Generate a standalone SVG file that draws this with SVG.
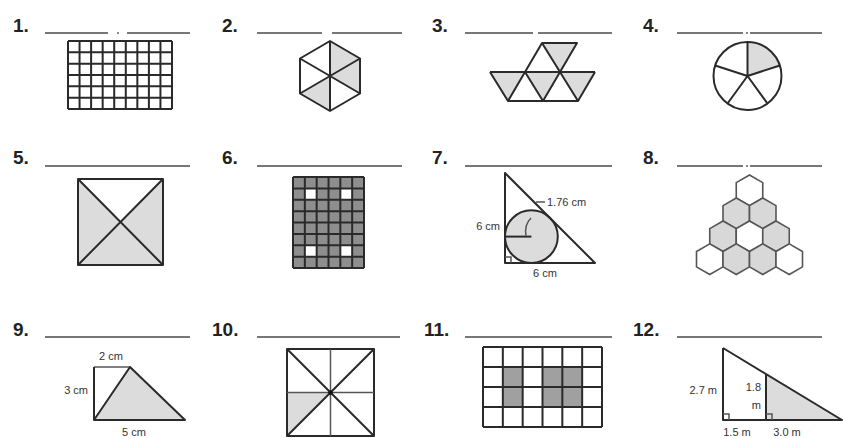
<svg xmlns="http://www.w3.org/2000/svg" xmlns:xlink="http://www.w3.org/1999/xlink" width="843" height="438" viewBox="0 0 843 438">
<style>
.num{font-family:"Liberation Sans",Arial,sans-serif;font-weight:bold;font-size:19px;fill:#222}
.lbl{font-family:"Liberation Sans",Arial,sans-serif;font-size:11px;fill:#333}
.blank{stroke:#777;stroke-width:2;fill:none}
.dot{fill:#888}
.ln{stroke:#2a2a2a;stroke-width:2;fill:none;stroke-linejoin:round}
.thin{stroke:#555;stroke-width:1.5;fill:none}
.sh{fill:#dcdcdc;stroke:none}
.dk{fill:#a0a0a0;stroke:none}
.dk2{fill:#8e8e8e;stroke:none}
.wh{fill:#fff;stroke:none}
.hex{stroke:#555;stroke-width:1.6}
.hs{fill:#d8d8d8}
.hw{fill:#fff}
</style>
<defs>
<polygon id="hx" points="0,-15.3 13.25,-7.65 13.25,7.65 0,15.3 -13.25,7.65 -13.25,-7.65"/>
</defs>
<rect width="843" height="438" fill="#fff"/>

<g id="labels">
<text class="num" x="13" y="32">1.</text>
<text class="num" x="222" y="32">2.</text>
<text class="num" x="432" y="32">3.</text>
<text class="num" x="643" y="32">4.</text>
<text class="num" x="13" y="164">5.</text>
<text class="num" x="222" y="164">6.</text>
<text class="num" x="432" y="164">7.</text>
<text class="num" x="643" y="164">8.</text>
<text class="num" x="13" y="336">9.</text>
<text class="num" x="212" y="336">10.</text>
<text class="num" x="424" y="336">11.</text>
<text class="num" x="633" y="336">12.</text>
</g>

<g id="blanks">
<path class="blank" d="M45,33H108M127,33H190"/>
<rect class="dot" x="117" y="32" width="2" height="2"/>
<path class="blank" d="M257,33H322M332,33H402"/>
<path class="blank" d="M465,33H533M538,33H612"/>
<path class="blank" d="M677,33H743M750,33H822"/>
<rect class="dot" x="746" y="32" width="2" height="2"/>
<path class="blank" d="M45,166H190"/>
<path class="blank" d="M257,166H402"/>
<path class="blank" d="M465,166H612"/>
<path class="blank" d="M677,166H743M750,166H822"/>
<rect class="dot" x="746" y="165" width="2" height="2"/>
<path class="blank" d="M45,337H190"/>
<path class="blank" d="M257,337H400"/>
<path class="blank" d="M465,337H612"/>
<path class="blank" d="M677,337H822"/>
</g>

<g id="fig1">
<rect x="68" y="41" width="104" height="68" fill="#fff"/>
<path class="ln" d="M68,41V109M79.56,41V109M91.11,41V109M102.67,41V109M114.22,41V109M125.78,41V109M137.33,41V109M148.89,41V109M160.44,41V109M172,41V109M68,41H172M68,52.33H172M68,63.67H172M68,75H172M68,86.33H172M68,97.67H172M68,109H172"/>
</g>

<g id="fig2">
<polygon class="sh" points="330,41 360,58.5 330,76"/>
<polygon class="sh" points="360,58.5 360,93.5 330,76"/>
<polygon class="sh" points="330,111 300,93.5 330,76"/>
<polygon class="ln" points="330,41 360,58.5 360,93.5 330,111 300,93.5 300,58.5"/>
<path class="ln" d="M330,41L330,111M360,58.5L300,93.5M360,93.5L300,58.5"/>
</g>

<g id="fig3">
<polygon class="sh" points="542,43 577,43 560,72"/>
<polygon class="sh" points="490,72 525,72 508,101"/>
<polygon class="sh" points="525,72 560,72 543,101"/>
<polygon class="sh" points="560,72 595,72 578,101"/>
<path class="ln" d="M542,43H577L560,72L542,43L525,72M490,72H595M508,101H578M490,72L508,101L525,72L543,101L560,72L578,101L595,72"/>
</g>

<g id="fig4">
<path class="sh" d="M747.5,76L747.5,42A34,34 0 0 1 779.84,65.49Z"/>
<circle class="ln" cx="747.5" cy="76" r="34"/>
<path class="ln" d="M747.5,76L747.5,42M747.5,76L779.84,65.49M747.5,76L767.48,103.51M747.5,76L727.52,103.51M747.5,76L715.16,65.49"/>
</g>

<g id="fig5">
<polygon class="sh" points="78,179 120.5,222 78,265"/>
<polygon class="sh" points="163,179 120.5,222 163,265"/>
<polygon class="sh" points="78,265 120.5,222 163,265"/>
<rect class="ln" x="78" y="179" width="85" height="86"/>
<path class="ln" d="M78,179L163,265M163,179L78,265"/>
</g>

<g id="fig6">
<rect class="dk2" x="293" y="177" width="71" height="91"/>
<rect class="wh" x="304.83" y="188.38" width="11.83" height="11.37"/>
<rect class="wh" x="340.33" y="188.38" width="11.83" height="11.37"/>
<rect class="wh" x="304.83" y="245.25" width="11.83" height="11.37"/>
<rect class="wh" x="340.33" y="245.25" width="11.83" height="11.37"/>
<path class="ln" d="M293,177V268M304.83,177V268M316.67,177V268M328.5,177V268M340.33,177V268M352.17,177V268M364,177V268M293,177H364M293,188.38H364M293,199.75H364M293,211.13H364M293,222.5H364M293,233.88H364M293,245.25H364M293,256.63H364M293,268H364"/>
</g>

<g id="fig7">
<circle cx="531.4" cy="236.6" r="26.4" fill="#dcdcdc" stroke="#2a2a2a" stroke-width="2"/>
<path class="ln" d="M505,236.6H531.4"/>
<path class="thin" d="M531,218Q524,225 526,236"/>
<polygon class="ln" points="505,173 505,263 595,263"/>
<path class="thin" d="M505,257H511V263"/>
<path class="thin" d="M536,202H545"/>
<text class="lbl" x="547" y="206">1.76 cm</text>
<text class="lbl" x="500" y="230" text-anchor="end">6 cm</text>
<text class="lbl" x="545" y="277" text-anchor="middle">6 cm</text>
</g>

<g id="fig8">
<use xlink:href="#hx" class="hex hw" x="749.5" y="190.3"/>
<use xlink:href="#hx" class="hex hs" x="736.25" y="213.3"/>
<use xlink:href="#hx" class="hex hs" x="762.75" y="213.3"/>
<use xlink:href="#hx" class="hex hs" x="723" y="236.25"/>
<use xlink:href="#hx" class="hex hw" x="749.5" y="236.25"/>
<use xlink:href="#hx" class="hex hs" x="776" y="236.25"/>
<use xlink:href="#hx" class="hex hw" x="709.75" y="259.2"/>
<use xlink:href="#hx" class="hex hs" x="736.25" y="259.2"/>
<use xlink:href="#hx" class="hex hs" x="762.75" y="259.2"/>
<use xlink:href="#hx" class="hex hw" x="789.25" y="259.2"/>
</g>

<g id="fig9">
<polygon class="sh" points="94,420 130,367 185,420"/>
<path class="thin" d="M94,367H130"/>
<path class="ln" d="M94,367V420H185L130,367L94,420"/>
<text class="lbl" x="111" y="360" text-anchor="middle">2 cm</text>
<text class="lbl" x="88" y="394" text-anchor="end">3 cm</text>
<text class="lbl" x="134" y="436" text-anchor="middle">5 cm</text>
</g>

<g id="fig10">
<polygon class="sh" points="287,392.5 330.5,392.5 287,436"/>
<rect class="ln" x="287" y="349" width="87" height="87"/>
<path class="thin" d="M330.5,349V436M287,392.5H374"/>
<path class="ln" d="M287,349L374,436M374,349L287,436"/>
<circle cx="330.5" cy="392.5" r="2.2" fill="#111"/>
</g>

<g id="fig11">
<rect x="483" y="347" width="119" height="80" fill="#fff"/>
<rect class="dk" x="502.83" y="367" width="19.84" height="40"/>
<rect class="dk" x="542.5" y="367" width="39.67" height="40"/>
<path class="ln" d="M483,347V427M502.83,347V427M522.67,347V427M542.5,347V427M562.33,347V427M582.17,347V427M602,347V427M483,347H602M483,367H602M483,387H602M483,407H602M483,427H602"/>
</g>

<g id="fig12">
<polygon class="sh" points="766,374 766,420 842,420"/>
<path class="ln" d="M723,348V420H842L723,348M766,374V420"/>
<path class="thin" d="M723,414H729V420M766,414H772V420"/>
<text class="lbl" x="717" y="394" text-anchor="end">2.7 m</text>
<text class="lbl" x="761" y="391" text-anchor="end">1.8</text>
<text class="lbl" x="761" y="409" text-anchor="end">m</text>
<text class="lbl" x="737" y="436" text-anchor="middle">1.5 m</text>
<text class="lbl" x="787" y="436" text-anchor="middle">3.0 m</text>
</g>
</svg>
